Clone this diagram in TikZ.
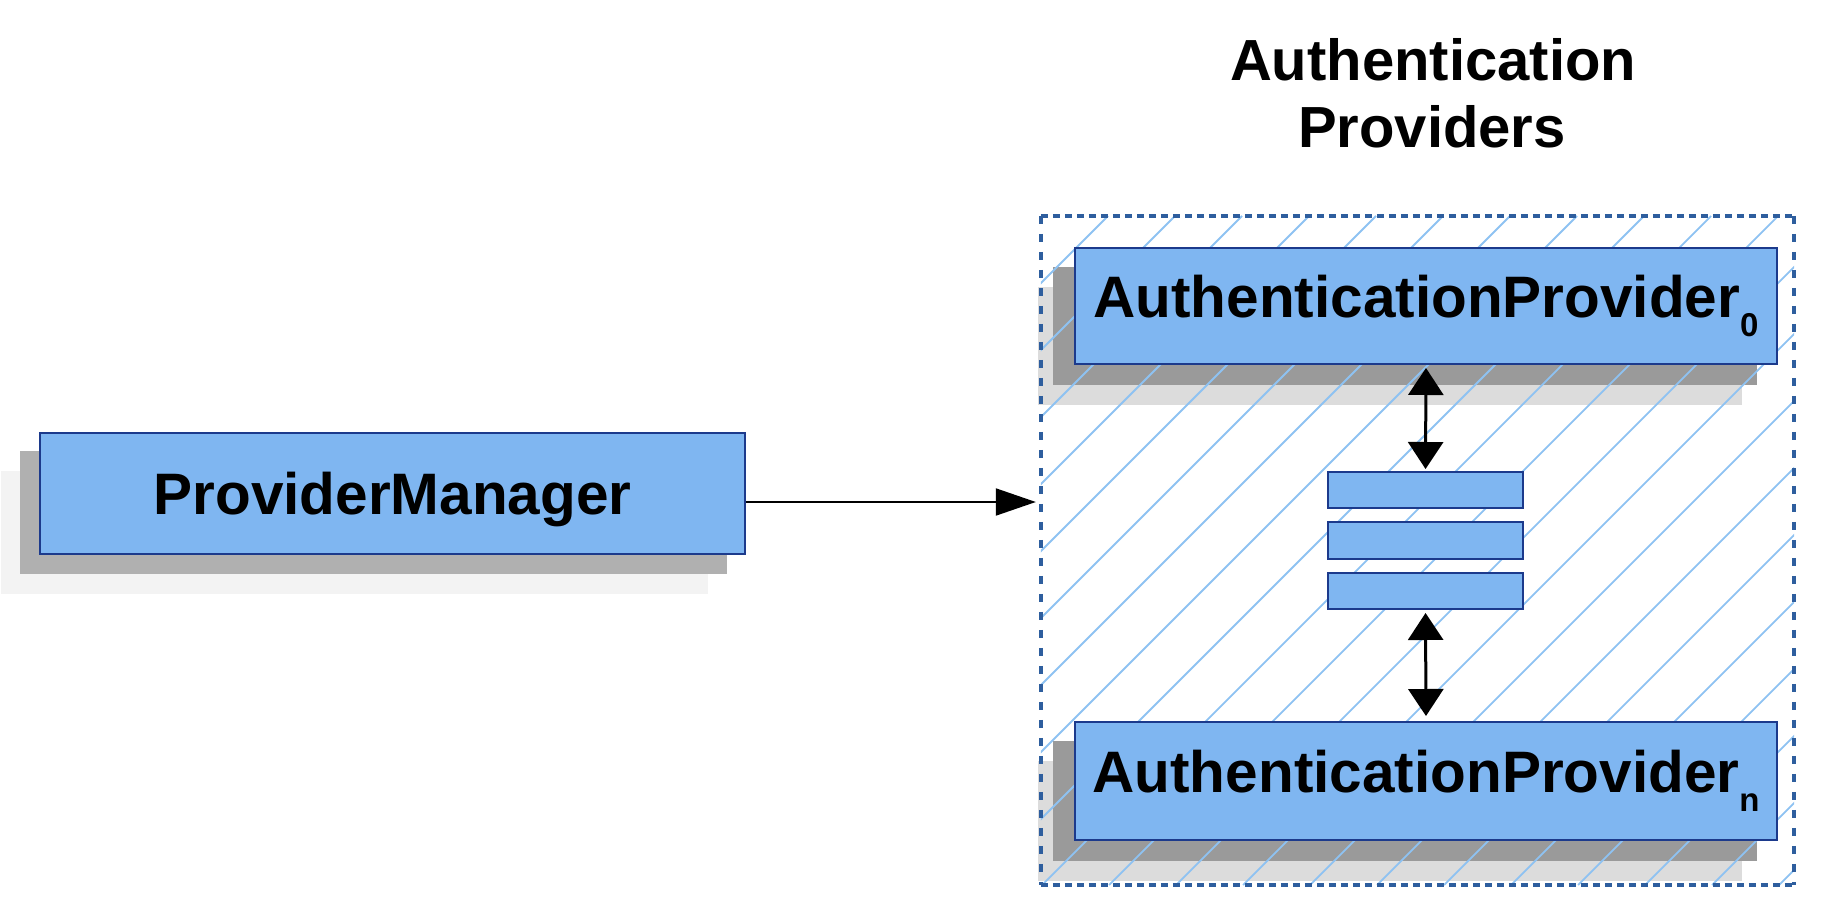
\documentclass[tikz,border=0pt]{standalone}
\usepackage{fontspec}
\setmainfont{Liberation Sans}
\usetikzlibrary{arrows.meta,backgrounds}
\definecolor{boxfill}{HTML}{7FB6F1}
\definecolor{boxline}{HTML}{1C3A8C}
\definecolor{hatchc}{HTML}{8EC2F2}
\definecolor{dashc}{HTML}{2E5E9E}
\definecolor{shdarkpm}{HTML}{B0B0B0}
\definecolor{shlightpm}{HTML}{F3F3F3}
\definecolor{shdarkap}{HTML}{9A9A9A}
\definecolor{shlightap}{HTML}{DCDCDC}
\begin{document}
\begin{tikzpicture}[x=1pt,y=-1pt,
  bx/.style={draw=boxline, line width=2pt, fill=boxfill, inner sep=0pt,
    font=\fontsize{58.5}{60}\selectfont\bfseries},
  sbx/.style={draw=boxline, line width=2pt, fill=boxfill, inner sep=0pt,
    minimum width=195pt},
  ttl/.style={anchor=base, inner sep=0pt, font=\fontsize{58}{60}\selectfont\bfseries},
  hatchline/.style={draw=hatchc, line width=1.8pt},
  dashh/.style={draw=dashc, line width=3.5pt, dash pattern=on 7pt off 5pt},
  dashv/.style={draw=dashc, line width=3.5pt, dash pattern=on 8pt off 10pt},
  conn/.style={draw=black, line width=2pt, -{Triangle[length=40pt,width=27pt]}},
  dbl/.style={draw=black, line width=3pt, {Triangle[length=27pt,width=35pt]}-{Triangle[length=27pt,width=35pt]}}
]
\useasboundingbox (0,0) rectangle (1826,910);

% title
\node[ttl] (t1) at (1433,80) {Authentication};
\node[ttl] (t2) at (1432,147) {Providers};

% container
\node[inner sep=0pt, minimum width=753pt, minimum height=669pt] (ctr) at (1417.5,550.5) {};

% boxes
\node[bx, minimum width=705pt, minimum height=121pt, text depth=0pt] (pm) at (392.5,493.5) {ProviderManager};
\node[bx, minimum width=702pt, minimum height=116pt] (ap0) at (1426,306)
  {AuthenticationProvider\raisebox{-19pt}{\fontsize{33}{33}\selectfont 0}};
\node[bx, minimum width=702pt, minimum height=118pt] (apn) at (1426,781)
  {AuthenticationProvider\raisebox{-19pt}{\fontsize{33}{33}\selectfont n}};
\node[sbx, minimum height=36pt] (s1) at (1425.5,490) {};
\node[sbx, minimum height=37pt] (s2) at (1425.5,540.5) {};
\node[sbx, minimum height=36pt] (s3) at (1425.5,591) {};

% container border
\draw[dashh] (ctr.north west) -- (ctr.north east);
\draw[dashh] (ctr.south west) -- (ctr.south east);
\draw[dashv] (ctr.north west) -- (ctr.south west);
\draw[dashv] (ctr.north east) -- (ctr.south east);

% connectors
\draw[conn, shorten >=5pt] (pm.east |- 0,502) -- (ctr.west |- 0,502);
\draw[dbl, shorten <=3pt, shorten >=2pt] (ap0.south) -- (s1.north);
\draw[dbl, shorten <=3pt, shorten >=5pt] (s3.south) -- (apn.north);

\begin{scope}[on background layer]
  % shadows
  \fill[shlightpm] ([shift={(-38,39)}]pm.north west) rectangle ([shift={(-38,39)}]pm.south east);
  \fill[shdarkpm] ([shift={(-19,19)}]pm.north west) rectangle ([shift={(-19,19)}]pm.south east);
  \foreach \b in {ap0,apn} {
    \fill[shlightap] ([shift={(-36,40)}]\b.north west) rectangle ([shift={(-36,40)}]\b.south east);
    \fill[shdarkap] ([shift={(-21,20)}]\b.north west) rectangle ([shift={(-21,20)}]\b.south east);
  }
  % hatch
  \begin{scope}
    \clip (ctr.north west) rectangle (ctr.south east);
    \foreach \k in {-1,...,21} {
      \draw[hatchline] ({1324+67*\k-216},216) -- ({1324+67*\k-885},885);
    }
  \end{scope}
\end{scope}
\end{tikzpicture}
\end{document}
